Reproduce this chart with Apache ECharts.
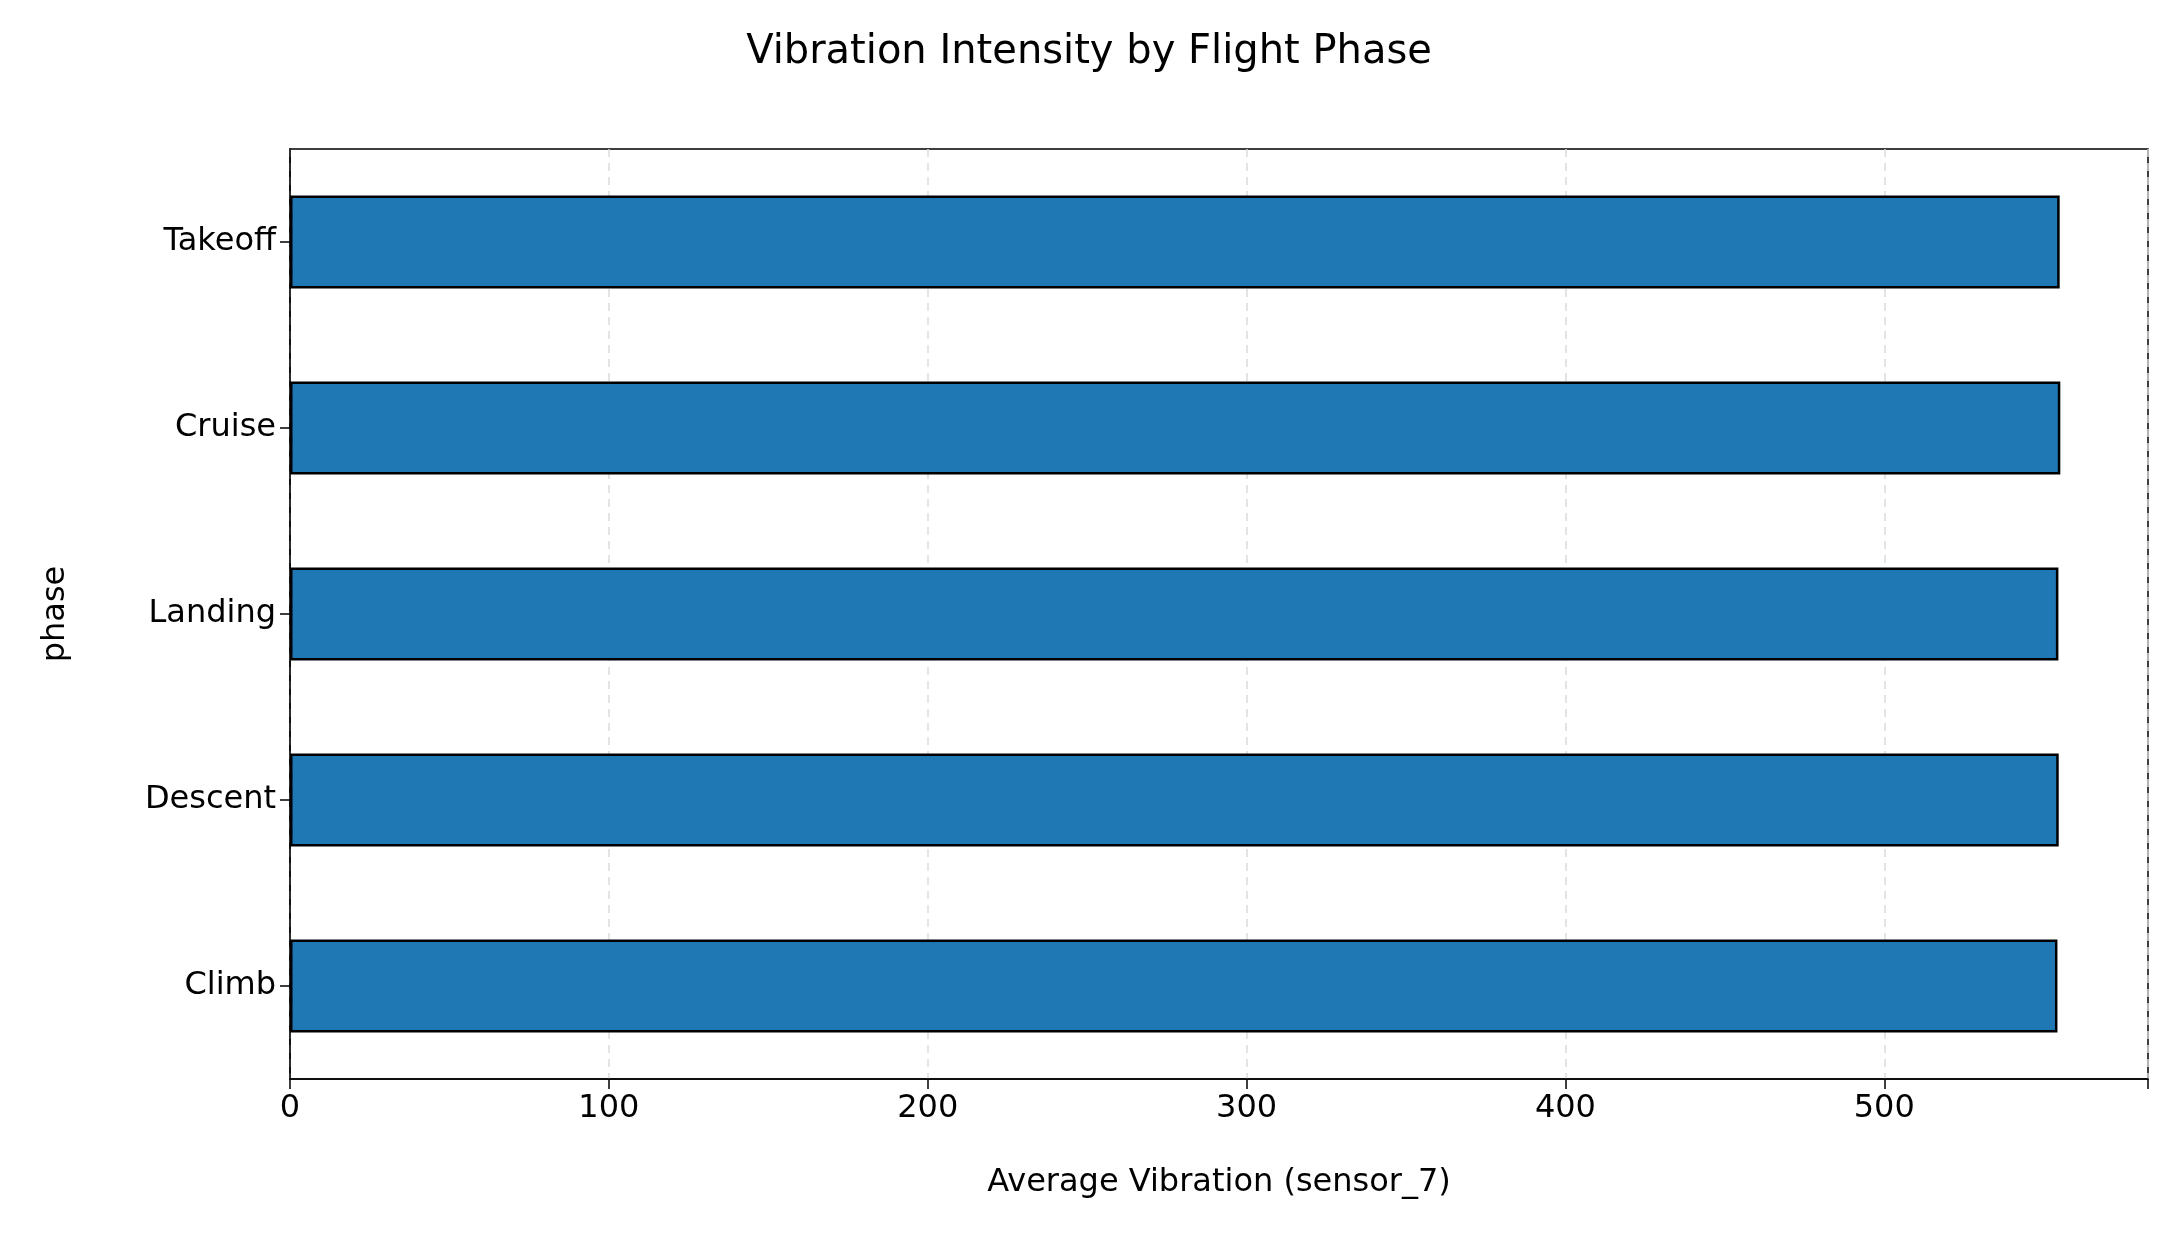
<!DOCTYPE html>
<html>
<head>
  <meta charset="utf-8">
  <script src="https://cdn.jsdelivr.net/npm/echarts@6/dist/echarts.min.js"></script>
  <style>html,body{margin:0;padding:0;background:#fff}</style>
</head>
<body>
<div id="main" style="width:2178px;height:1236px"></div>
<script>
  const phases = ['Climb', 'Descent', 'Landing', 'Cruise', 'Takeoff'];
  const vibration = [554.3, 554.7, 554.6, 555.2, 555.0];
  const xTicks = [0, 100, 200, 300, 400, 500];

  const font = 'DejaVu Sans';
  const chart = echarts.init(document.getElementById('main'));
  chart.setOption({
    animation: false,
    title: {
      text: 'Vibration Intensity by Flight Phase',
      left: 'center', top: 28,
      textStyle: { fontFamily: font, fontSize: 40, fontWeight: 'normal', color: '#000' }
    },
    grid: {
      left: 290, right: 30, top: 149, bottom: 157,
      show: true, borderColor: '#000', borderWidth: 1.5
    },
    xAxis: {
      type: 'value', min: 0, max: 582.7, interval: 100,
      name: 'Average Vibration (sensor_7)', nameLocation: 'middle', nameGap: 88,
      nameTextStyle: { fontFamily: font, fontSize: 32, color: '#000' },
      axisLine: { show: true, lineStyle: { color: '#000', width: 1.5 } },
      axisTick: { show: true, length: 10, lineStyle: { color: '#000', width: 1.5 } },
      axisLabel: {
        fontFamily: font, fontSize: 32, color: '#000', margin: 14,
        formatter: v => xTicks.includes(v) ? String(v) : ''
      },
      splitLine: { show: true, lineStyle: { color: '#dcdcdc', type: [8, 6], width: 1.5 } }
    },
    yAxis: {
      type: 'category', data: phases,
      name: 'phase', nameLocation: 'middle', nameGap: 218, nameRotate: 90,
      nameTextStyle: { fontFamily: font, fontSize: 32, color: '#000' },
      axisLine: { show: true, lineStyle: { color: '#000', width: 1.5 } },
      axisTick: { show: true, alignWithLabel: true, length: 10, lineStyle: { color: '#000', width: 1.5 } },
      axisLabel: { fontFamily: font, fontSize: 32, color: '#000', margin: 14 }
    },
    series: [{
      type: 'bar', data: vibration, barCategoryGap: '50%',
      itemStyle: { color: '#1f77b4', borderColor: '#000', borderWidth: 2.5 }
    }]
  });
</script>
</body>
</html>
